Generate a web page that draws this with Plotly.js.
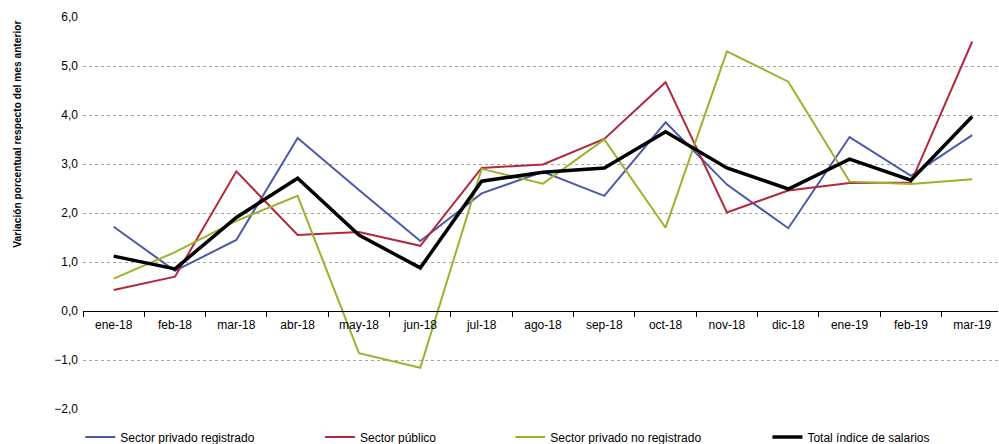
<!DOCTYPE html>
<html><head><meta charset="utf-8">
<script src="https://cdn.plot.ly/plotly-3.0.1.min.js"></script>
<style>html,body{margin:0;padding:0;background:#fff}#chart{width:999px;height:444px}</style>
</head><body><div id="chart"></div>
<script>
const months = ["ene-18","feb-18","mar-18","abr-18","may-18","jun-18","jul-18","ago-18","sep-18","oct-18","nov-18","dic-18","ene-19","feb-19","mar-19"];
const privadoRegistrado = [1.72,0.82,1.45,3.53,2.47,1.43,2.40,2.84,2.35,3.85,2.58,1.69,3.55,2.76,3.59];
const sectorPublico = [0.43,0.70,2.85,1.55,1.61,1.33,2.92,2.99,3.51,4.67,2.01,2.46,2.61,2.62,5.50];
const privadoNoRegistrado = [0.66,1.20,1.84,2.35,-0.86,-1.16,2.90,2.60,3.50,1.70,5.30,4.68,2.64,2.59,2.69];
const totalIndice = [1.12,0.86,1.91,2.71,1.55,0.88,2.65,2.83,2.92,3.66,2.92,2.49,3.10,2.67,3.97];
const seriesNames = ["Sector privado registrado","Sector público","Sector privado no registrado","Total índice de salarios"];

const traces = [
  {x: months, y: privadoRegistrado, name: seriesNames[0], type:"scatter", mode:"lines", line:{color:"#4b5aa8", width:2}, legend:"legend"},
  {x: months, y: sectorPublico, name: seriesNames[1], type:"scatter", mode:"lines", line:{color:"#b3283e", width:2}, legend:"legend2"},
  {x: months, y: privadoNoRegistrado, name: seriesNames[2], type:"scatter", mode:"lines", line:{color:"#9cb22c", width:2}, legend:"legend3"},
  {x: months, y: totalIndice, name: seriesNames[3], type:"scatter", mode:"lines", line:{color:"#000000", width:3.5}, legend:"legend4"}
];
const legFont = {family:"Liberation Sans, Arial, sans-serif", size:12, color:"#000"};
function leg(x){return {orientation:"h", x:x, xanchor:"left", xref:"paper", yref:"container", y:0.016, yanchor:"middle", font:legFont, bgcolor:"rgba(0,0,0,0)", itemwidth:30};}
const layout = {
  width:999, height:444,
  margin:{l:83, r:1, t:17, b:35},
  paper_bgcolor:"#fff", plot_bgcolor:"#fff",
  separators:",.",
  font:{family:"Liberation Sans, Arial, sans-serif", size:12, color:"#000"},
  showlegend:true,
  legend:leg(-0.003), legend2:leg(0.259), legend3:leg(0.467), legend4:leg(0.748),
  xaxis:{type:"category", range:[-0.5,14.42], anchor:"free", position:0.25,
    showline:true, linecolor:"#000", linewidth:1, ticks:"outside", tickson:"boundaries",
    ticklen:5, tickcolor:"#000", showgrid:false, zeroline:false, ticklabelstandoff:3,
    tickfont:{size:12, color:"#000"}},
  yaxis:{range:[-2,6], dtick:1, tickformat:".1f", showgrid:true, gridcolor:"#a6a6a6",
    griddash:"dot", gridwidth:1, zeroline:false, showline:false, ticks:"",
    ticklabelstandoff:4, tickfont:{size:12, color:"#000"}},
  annotations:[{text:"<b>Variación porcentual respecto del mes anterior</b>", xref:"paper", yref:"paper",
    x:-0.071, y:0.70, xanchor:"center", yanchor:"middle", textangle:-90, showarrow:false,
    font:{size:10.2, color:"#000"}}]
};
Plotly.newPlot("chart", traces, layout, {displayModeBar:false, staticPlot:true});
</script></body></html>
